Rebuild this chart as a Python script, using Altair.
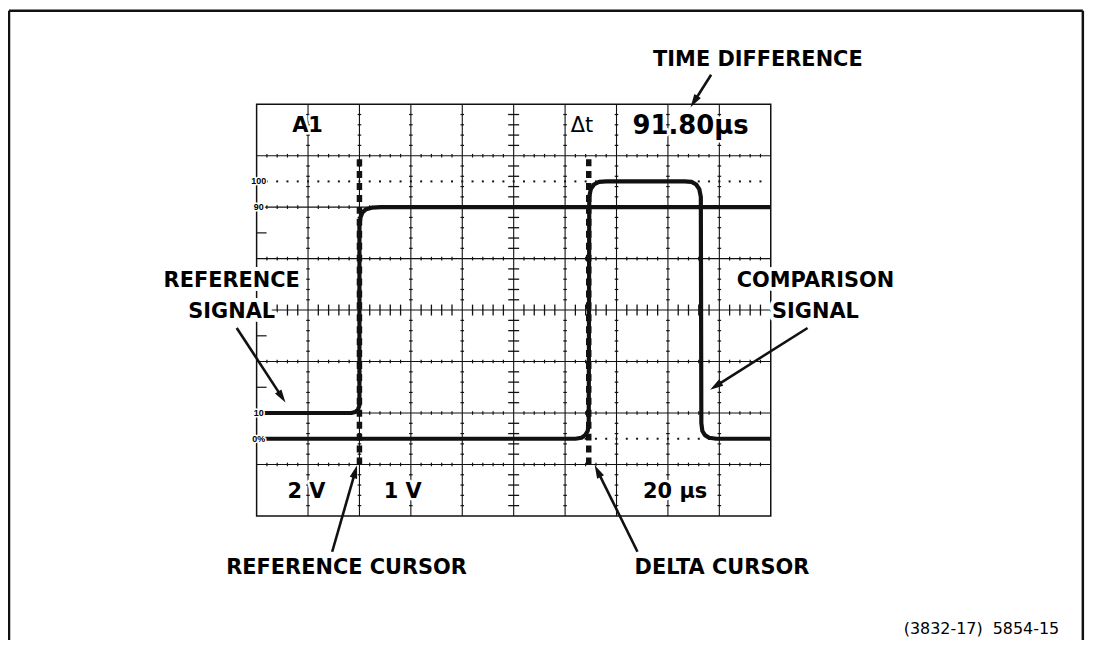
import math
import altair as alt
import pandas as pd

# ---------------- data (graticule divisions: x 0..10, y 0..8 from bottom) ----------------
# Reference signal: 10 % level -> 90 % level, rising at the reference cursor
ref_x = [0.0, 1.84, 1.92, 1.97, 2.0, 2.0, 2.02, 2.06, 2.13, 2.24, 2.42, 10.0]
ref_y = [2.0, 2.0, 2.02, 2.06, 2.15, 5.65, 5.8, 5.9, 5.96, 5.99, 6.0, 6.0]

# Comparison signal: 0 % level -> 100 % pulse
cmp_x = [0.0, 6.2, 6.32, 6.39, 6.44, 6.46, 6.47, 6.5, 6.56, 6.66, 6.8,
         8.32, 8.46, 8.55, 8.61, 8.64, 8.65, 8.67, 8.72, 8.8, 8.94, 10.0]
cmp_y = [1.5, 1.5, 1.52, 1.57, 1.65, 1.8, 6.2, 6.35, 6.44, 6.49, 6.5,
         6.5, 6.49, 6.44, 6.35, 6.2, 1.8, 1.65, 1.57, 1.52, 1.5, 1.5]

cursor_names = ["reference", "delta"]
cursor_x = [2.0, 6.46]
cursor_y_from = [1.0, 1.0]
cursor_y_to = [7.0, 7.0]

level_labels = ["100", "90", "10", "0%"]
level_y = [6.5, 6.0, 2.0, 1.5]
dotted_levels = [6.5, 1.5]

top_readouts = ["A1", "Δt", "91.80μs"]
top_readout_x = [0.99, 6.33, 8.44]
top_readout_y = [7.58, 7.58, 7.58]
bottom_readouts = ["2 V", "1 V", "20 μs"]
bottom_readout_x = [0.97, 2.84, 8.14]
bottom_readout_y = [0.47, 0.47, 0.47]

label_texts = ["TIME DIFFERENCE", "REFERENCE", "SIGNAL", "COMPARISON", "SIGNAL",
               "REFERENCE CURSOR", "DELTA CURSOR"]
label_x = [9.75, -0.484, -0.484, 10.87, 10.87, 1.75, 9.05]
label_y = [8.85, 4.56, 3.96, 4.56, 3.96, -1.02, -1.02]

footnote = ["(3832-17)\u00a0 5854-15"]
footnote_x = [15.61]
footnote_y = [-2.2]

arrow_tail_x = [8.84, -0.387, 10.716, 1.470, 7.408]
arrow_tail_y = [8.574, 3.652, 3.652, -0.696, -0.696]
arrow_tip_x = [8.44, 0.561, 8.820, 1.954, 6.576]
arrow_tip_y = [7.942, 2.203, 2.454, 0.986, 0.986]

# outer frame of the figure (division units)
frame_left, frame_right, frame_top, frame_bottom = -4.816, 16.07, 9.816, -3.2

# ---------------- layout ----------------
PX_X = 51.7   # pixels per horizontal division
PX_Y = 51.75  # pixels per vertical division
W, H = 517, 414
XS = alt.Scale(domain=[0, 10], nice=False, zero=False)
YS = alt.Scale(domain=[0, 8], nice=False, zero=False)
INK = "#111111"


def enc(chart, x2=False, y2=False, **kw):
    e = dict(x=alt.X("x:Q", scale=XS, axis=None), y=alt.Y("y:Q", scale=YS, axis=None))
    if x2:
        e["x2"] = alt.X2("x2:Q")
    if y2:
        e["y2"] = alt.Y2("y2:Q")
    e.update(kw)
    return chart.encode(**e)


layers = []

# frame (left, top, right)
frame = pd.DataFrame({
    "x": [frame_left, frame_left, frame_right],
    "x2": [frame_left, frame_right, frame_right],
    "y": [frame_top, frame_top, frame_top],
    "y2": [frame_bottom, frame_top, frame_bottom],
})
layers.append(enc(alt.Chart(frame).mark_rule(color=INK, strokeWidth=2.5), x2=True, y2=True))

# major grid lines
gv = pd.DataFrame({"x": list(range(1, 10)), "x2": list(range(1, 10)), "y": [0] * 9, "y2": [8] * 9})
gh = pd.DataFrame({"x": [0] * 7, "x2": [10] * 7, "y": list(range(1, 8)), "y2": list(range(1, 8))})
grid = pd.concat([gv, gh], ignore_index=True)
layers.append(enc(alt.Chart(grid).mark_rule(color=INK, strokeWidth=1.1), x2=True, y2=True))

# minor ticks every 0.2 division
rows_small, rows_big = [], []
for k in range(1, 10):
    for s in range(1, 40):
        if s % 5 == 0:
            continue
        y = s * 0.2
        if k == 5:
            h = 5.5 / PX_X
            rows_big.append(dict(x=k - h, x2=k + h, y=y, y2=y))
        else:
            h = 1.8 / PX_X
            rows_small.append(dict(x=k - h, x2=k + h, y=y, y2=y))
for j in range(1, 8):
    for s in range(1, 50):
        if s % 5 == 0:
            continue
        x = s * 0.2
        if j == 4:
            h = 5.5 / PX_Y
            rows_big.append(dict(x=x, x2=x, y=j - h, y2=j + h))
        else:
            h = 1.8 / PX_Y
            rows_small.append(dict(x=x, x2=x, y=j - h, y2=j + h))
layers.append(enc(alt.Chart(pd.DataFrame(rows_small)).mark_rule(color=INK, strokeWidth=1.2), x2=True, y2=True))
layers.append(enc(alt.Chart(pd.DataFrame(rows_big)).mark_rule(color=INK, strokeWidth=1.3), x2=True, y2=True))

# half-division marks on the left edge
edge = pd.DataFrame({"y": [2.5, 3.5, 4.5, 5.5]})
edge["y2"] = edge["y"]
edge["x"] = 0.0
edge["x2"] = 10 / PX_X
layers.append(enc(alt.Chart(edge).mark_rule(color=INK, strokeWidth=1.2), x2=True, y2=True))

# dotted 0 % and 100 % lines
dots = pd.DataFrame([dict(x=s * 0.2, y=lv) for lv in dotted_levels for s in range(1, 50)])
layers.append(enc(alt.Chart(dots).mark_square(color=INK, size=4, opacity=1)))

# cursors
cur = pd.DataFrame({"name": cursor_names, "x": cursor_x, "y": cursor_y_from, "y2": cursor_y_to})
layers.append(enc(alt.Chart(cur).mark_rule(color=INK, strokeWidth=5.5, strokeDash=[7, 5]), y2=True))

# signals
sig = pd.concat([
    pd.DataFrame({"signal": "reference", "x": ref_x, "y": ref_y, "o": range(len(ref_x))}),
    pd.DataFrame({"signal": "comparison", "x": cmp_x, "y": cmp_y, "o": range(len(cmp_x))}),
], ignore_index=True)
layers.append(enc(alt.Chart(sig).mark_line(color=INK, strokeWidth=4.2, strokeJoin="round", strokeCap="butt"),
                  detail="signal:N", order="o:Q"))


def text_layers(df, size, weight="bold", halo=7, font="DejaVu Sans", align="center", style="normal"):
    base = alt.Chart(df)
    kw = dict(font=font, fontSize=size, fontWeight=weight, align=align, baseline="middle", fontStyle=style)
    out = []
    if halo > 0:
        out.append(enc(base.mark_text(fill="white", stroke="white", strokeWidth=halo, strokeJoin="round", **kw),
                       text="t:N"))
    out.append(enc(base.mark_text(fill="black", **kw), text="t:N"))
    return out


# level labels at the left edge
lv = pd.DataFrame({"t": level_labels, "x": [0.04] * 4, "y": level_y})
layers += text_layers(lv, 9, weight="bold", halo=3, font="Liberation Sans")

# readouts
tr = pd.DataFrame({"t": top_readouts, "x": top_readout_x, "y": top_readout_y})
layers += text_layers(tr.iloc[[0]], 21, halo=5)
layers += text_layers(tr.iloc[[1]], 21, weight="normal", halo=5)
layers += text_layers(tr.iloc[[2]], 26, halo=5)
br = pd.DataFrame({"t": bottom_readouts, "x": bottom_readout_x, "y": bottom_readout_y})
layers += text_layers(br, 21, halo=5)

# annotation labels
lab = pd.DataFrame({"t": label_texts, "x": label_x, "y": label_y})
layers += text_layers(lab, 21, halo=8)

fn = pd.DataFrame({"t": footnote, "x": footnote_x, "y": footnote_y})
layers += text_layers(fn, 16, weight="normal", halo=0, font="DejaVu Sans", align="right")

# arrows
arr = pd.DataFrame({"x": arrow_tail_x, "y": arrow_tail_y, "tx": arrow_tip_x, "ty": arrow_tip_y})
ang, ex, ey = [], [], []
for _, r in arr.iterrows():
    dx = (r.tx - r.x) * PX_X
    dy = (r.ty - r.y) * PX_Y
    ang.append(math.degrees(math.atan2(dx, dy)) % 360)
    L = math.hypot(dx, dy)
    back = 8.0
    ex.append(r.tx - dx / L * back / PX_X)
    ey.append(r.ty - dy / L * back / PX_Y)
arr["angle"] = ang
arr["x2"] = ex
arr["y2"] = ey
layers.append(enc(alt.Chart(arr).mark_rule(color=INK, strokeWidth=2.6), x2=True, y2=True))
heads = pd.DataFrame({"x": arr["tx"], "y": arr["ty"], "angle": arr["angle"]})
layers.append(enc(alt.Chart(heads).mark_point(shape="M0,0L0.55,1.9L-0.55,1.9Z", size=196, filled=True,
                                                color=INK, opacity=1),
                  angle=alt.Angle("angle:Q", scale=None)))

chart = alt.layer(*layers).properties(
    width=W, height=H,
    padding={"left": 250, "top": 95, "right": 316, "bottom": 123},
    autosize=alt.AutoSizeParams(type="none"),
    background="white",
).configure_view(stroke=INK, strokeWidth=1.5)

chart.save("out.html", embed_options={"renderer": "svg", "actions": False})
